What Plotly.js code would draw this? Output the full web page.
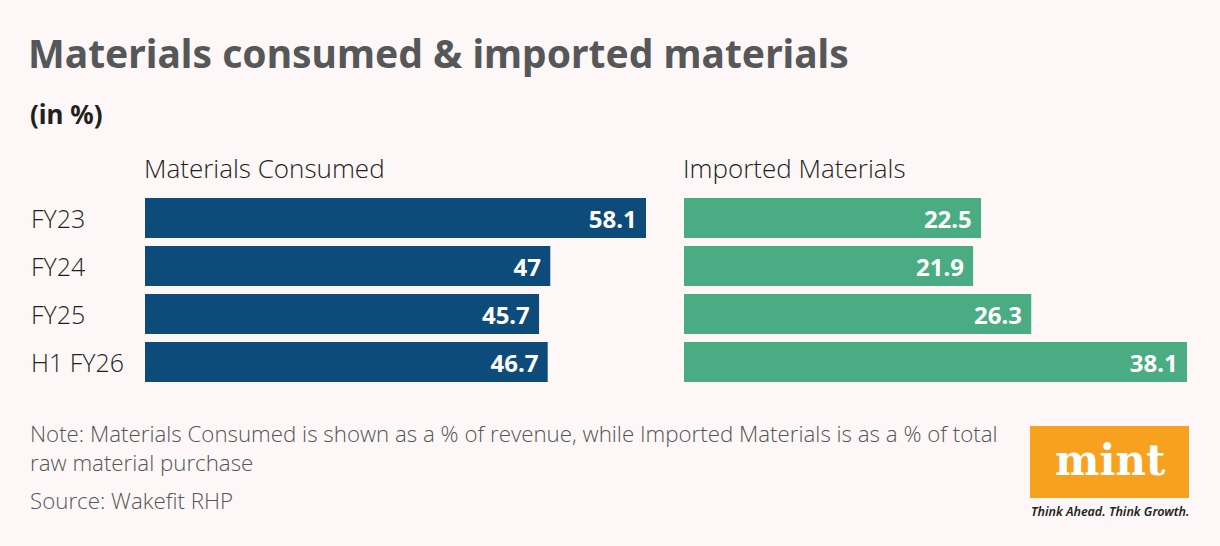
<!DOCTYPE html>
<html>
<head>
<meta charset="utf-8">
<script src="https://cdn.plot.ly/plotly-3.0.1.min.js"></script>
<style>
  html, body { margin: 0; padding: 0; background: #fdf8f7; }
  #chart { width: 1220px; height: 546px; }
</style>
</head>
<body>
<div id="chart"></div>
<script>
// Wakefit RHP: materials consumed vs imported materials (in %)
const periods = ["FY23", "FY24", "FY25", "H1 FY26"];
const materialsConsumed = [58.1, 47, 45.7, 46.7];
const importedMaterials = [22.5, 21.9, 26.3, 38.1];
const panelTitles = ["Materials Consumed", "Imported Materials"];

const W = 1220, H = 546;
const px = v => v / W;          // horizontal pixel -> paper fraction
const py = v => 1 - v / H;      // vertical pixel -> paper fraction

const BG = "#fdf8f7";
const NAVY = "#0d4b7a";
const GREEN = "#4aac82";
const INK = "#231f20";
const LIGHT = "Open Sans, Noto Sans, sans-serif";
const BOLD = "Noto Sans, Open Sans, sans-serif";

const valueLabel = arr => arr.map(v => String(v) + "\u00a0");

const barCommon = {
  type: "bar",
  orientation: "h",
  y: periods,
  textposition: "inside",
  insidetextanchor: "end",
  constraintext: "none",
  textfont: { color: "#ffffff", size: 24, family: BOLD, weight: 700 },
  hoverinfo: "skip",
  showlegend: false
};

const traces = [
  Object.assign({}, barCommon, {
    x: materialsConsumed,
    text: valueLabel(materialsConsumed),
    marker: { color: NAVY },
    xaxis: "x", yaxis: "y"
  }),
  Object.assign({}, barCommon, {
    x: importedMaterials,
    text: valueLabel(importedMaterials),
    marker: { color: GREEN },
    xaxis: "x2", yaxis: "y2"
  })
];

const yDomain = [py(386), py(194)];
const hiddenX = { showgrid: false, zeroline: false, showticklabels: false, ticks: "", showline: false, fixedrange: true };
const hiddenY = { showgrid: false, zeroline: false, showticklabels: false, ticks: "", showline: false,
                  autorange: "reversed", type: "category", domain: yDomain, fixedrange: true };

const annotations = [];

// category labels on the left
periods.forEach(p => {
  annotations.push({
    xref: "paper", yref: "y", x: px(30), y: p, xshift: -1,
    xanchor: "left", yanchor: "middle", showarrow: false,
    text: p, font: { family: LIGHT, size: 25, color: INK, weight: 300 }
  });
});

// panel headings
[[145, panelTitles[0]], [684, panelTitles[1]]].forEach(([x, t]) => {
  annotations.push({
    xref: "paper", yref: "paper", x: px(x), y: py(168), xshift: -3,
    xanchor: "left", yanchor: "middle", showarrow: false,
    text: t, font: { family: LIGHT, size: 26, color: INK, weight: 300 }
  });
});

// unit line
annotations.push({
  xref: "paper", yref: "paper", x: px(30), y: py(114), xshift: -2,
  xanchor: "left", yanchor: "middle", showarrow: false,
  text: "(in %)", font: { family: BOLD, size: 26, color: INK, weight: 700 }
});

// footnotes
annotations.push({
  xref: "paper", yref: "paper", x: px(30), y: py(448), xshift: -2,
  xanchor: "left", yanchor: "middle", align: "left", showarrow: false,
  text: "Note: Materials Consumed is shown as a % of revenue, while Imported Materials is as a % of total<br>raw material purchase",
  font: { family: LIGHT, size: 22.3, color: "#555555", weight: 300 }
});
annotations.push({
  xref: "paper", yref: "paper", x: px(30), y: py(500), xshift: -2,
  xanchor: "left", yanchor: "middle", showarrow: false,
  text: "Source: Wakefit RHP",
  font: { family: LIGHT, size: 22.3, color: "#555555", weight: 300 }
});

// brand block
annotations.push({
  xref: "paper", yref: "paper", x: px(1110), y: py(460),
  xanchor: "center", yanchor: "middle", showarrow: false,
  text: "<b>mint</b>", font: { family: "DejaVu Serif, serif", size: 42, color: "#ffffff" }
});
annotations.push({
  xref: "paper", yref: "paper", x: px(1110), y: py(511),
  xanchor: "center", yanchor: "middle", showarrow: false,
  text: "<i>Think Ahead. Think Growth.</i>",
  font: { family: BOLD, size: 12.5, color: "#222222", weight: 600 }
});

const layout = {
  width: W, height: H,
  margin: { l: 0, r: 0, t: 0, b: 0 },
  paper_bgcolor: BG, plot_bgcolor: BG,
  title: {
    text: "<b>Materials consumed &amp; imported materials</b>",
    x: px(28), xref: "paper", xanchor: "left",
    y: py(54), yref: "paper", yanchor: "middle",
    font: { family: BOLD, size: 39, color: "#565759" }
  },
  bargap: 1 / 6,
  xaxis: Object.assign({}, hiddenX, { domain: [px(145), px(646)], range: [0, Math.max(...materialsConsumed)], anchor: "y" }),
  yaxis: Object.assign({}, hiddenY, { anchor: "x" }),
  xaxis2: Object.assign({}, hiddenX, { domain: [px(684), px(1187)], range: [0, Math.max(...importedMaterials)], anchor: "y2" }),
  yaxis2: Object.assign({}, hiddenY, { anchor: "x2" }),
  shapes: [{
    type: "rect", xref: "paper", yref: "paper",
    x0: px(1030), x1: px(1189), y0: py(498), y1: py(426),
    fillcolor: "#f8a11f", line: { width: 0 }, layer: "below"
  }],
  annotations: annotations
};

Plotly.newPlot("chart", traces, layout, { displayModeBar: false, staticPlot: true });
</script>
</body>
</html>
